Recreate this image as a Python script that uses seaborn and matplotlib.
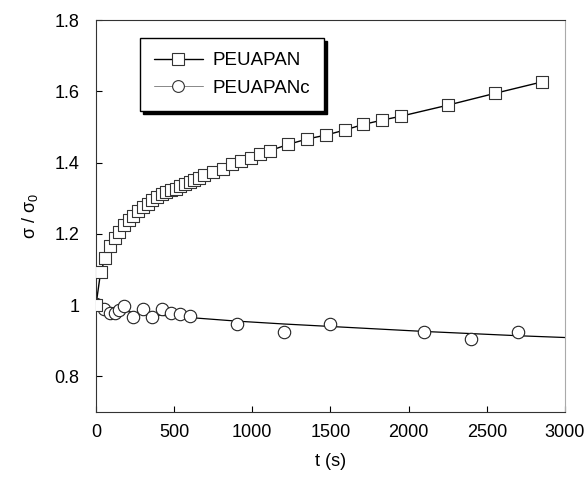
import numpy as np
import pandas as pd
import matplotlib
matplotlib.use('Agg')
import matplotlib.pyplot as plt
from matplotlib.lines import Line2D
import seaborn as sns

# PEUAPAN (squares)
t_pan = [0, 30, 60, 90, 120, 150, 180, 210, 240, 270, 300, 330, 360, 390,
         420, 450, 480, 510, 540, 570, 600, 630, 660, 690,
         750, 810, 870, 930, 990, 1050, 1110,
         1230, 1350, 1470, 1590, 1710, 1830, 1950, 2250, 2550, 2850]
s_pan = [1.000, 1.093, 1.132, 1.165, 1.187, 1.204, 1.226, 1.238, 1.250, 1.264,
         1.275, 1.285, 1.294, 1.304, 1.311, 1.318, 1.322, 1.327, 1.333, 1.340,
         1.346, 1.351, 1.358, 1.365,
         1.374, 1.383, 1.397, 1.405, 1.412, 1.424, 1.433,
         1.451, 1.466, 1.477, 1.491, 1.507, 1.519, 1.530, 1.561, 1.594, 1.626]

# PEUAPANc (circles)
t_panc = [0, 50, 90, 120, 150, 180, 240, 300, 360, 420, 480, 540, 600,
          900, 1200, 1500, 2100, 2400, 2700]
s_panc = [1.003, 0.988, 0.978, 0.978, 0.985, 0.997, 0.967, 0.990, 0.967, 0.990,
          0.978, 0.974, 0.969, 0.946, 0.924, 0.946, 0.924, 0.904, 0.924]

# fitted curve through PEUAPANc
t_fit = [0, 30, 100, 200, 300, 400, 600, 900, 1200, 1500, 1800, 2100, 2400, 2700, 3000]
s_fit = [1.000, 0.994, 0.988, 0.982, 0.977, 0.972, 0.965, 0.955, 0.947, 0.940,
         0.933, 0.926, 0.920, 0.914, 0.909]

df_pan = pd.DataFrame({'t': t_pan, 's': s_pan})
df_panc = pd.DataFrame({'t': t_panc, 's': s_panc})
df_fit = pd.DataFrame({'t': t_fit, 's': s_fit})

sns.set_style('ticks')
plt.rcParams['font.family'] = ['Liberation Sans', 'DejaVu Sans']
plt.rcParams['mathtext.fontset'] = 'custom'
plt.rcParams['mathtext.rm'] = 'Liberation Sans'
plt.rcParams['text.color'] = 'black'
plt.rcParams['axes.labelcolor'] = 'black'
plt.rcParams['xtick.color'] = 'black'
plt.rcParams['ytick.color'] = 'black'

fig = plt.figure(figsize=(5.87, 4.79), dpi=100)
ax = fig.add_axes([0.1635, 0.1399, 0.7990, 0.8183])

sns.lineplot(data=df_fit, x='t', y='s', ax=ax, color='black', linewidth=0.9,
             estimator=None, sort=False, zorder=2)
sns.scatterplot(data=df_panc, x='t', y='s', ax=ax, marker='o', s=80,
                facecolor='white', edgecolor='#222222', linewidth=0.8, zorder=3)
sns.lineplot(data=df_pan, x='t', y='s', ax=ax, color='black', linewidth=1.0,
             estimator=None, sort=False, zorder=2)
sns.scatterplot(data=df_pan, x='t', y='s', ax=ax, marker='s', s=80,
                facecolor='white', edgecolor='#333333', linewidth=0.8, zorder=4)

ax.set_xlim(0, 3000)
ax.set_ylim(0.7, 1.8)
ax.set_xticks([0, 500, 1000, 1500, 2000, 2500, 3000])
ax.set_yticks([0.8, 1.0, 1.2, 1.4, 1.6, 1.8])
ax.set_yticklabels(['0.8', '1', '1.2', '1.4', '1.6', '1.8'])
ax.tick_params(direction='in', length=4, width=0.8, labelsize=13, color='black')
ax.tick_params(axis='y', pad=12)
ax.tick_params(axis='x', pad=9)
for side in ['left', 'bottom', 'top']:
    ax.spines[side].set_color('#333333')
    ax.spines[side].set_linewidth(0.8)
ax.spines['right'].set_color('#aaaaaa')
ax.spines['right'].set_linewidth(0.8)

ax.set_xlabel('t (s)', fontsize=13, labelpad=8)
ax.set_ylabel('σ / σ$_0$', fontsize=13, labelpad=10)

handles = [
    Line2D([], [], color='black', linewidth=1.0, marker='s', markersize=9,
           markerfacecolor='white', markeredgecolor='#333333', markeredgewidth=0.8),
    Line2D([], [], color='#888888', linewidth=0.7, marker='o', markersize=8.5,
           markerfacecolor='white', markeredgecolor='#333333', markeredgewidth=0.8),
]
leg = ax.legend(handles, ['PEUAPAN', 'PEUAPANc'], loc='upper left',
                bbox_to_anchor=(0.094, 0.954), borderaxespad=0,
                fontsize=13.5, handlelength=2.6,
                frameon=True, fancybox=False, edgecolor='black', framealpha=1,
                borderpad=0.75, labelspacing=0.55, handletextpad=0.5,
                shadow={'facecolor': 'black', 'edgecolor': 'black', 'alpha': 1})
leg.get_frame().set_linewidth(1.0)

fig.savefig('out.png', dpi=100)
